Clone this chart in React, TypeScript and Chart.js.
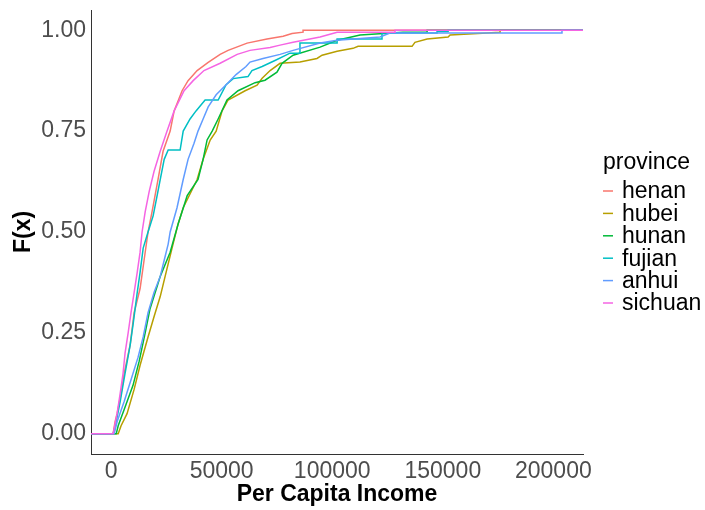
import React, { useEffect, useRef } from "react";
import { Chart, registerables } from "chart.js";

Chart.register(...registerables);

const PROVINCES = ["henan", "hubei", "hunan", "fujian", "anhui", "sichuan"];
const COLORS = ["#F8766D", "#B79F00", "#00BA38", "#00BFC4", "#619CFF", "#F564E3"];

const X_TICKS = [0, 50000, 100000, 150000, 200000];
const Y_TICKS = [0, 0.25, 0.5, 0.75, 1];
const X_MIN = -9100;
const X_MAX = 213400;

// ECDF curve vertices (income, cumulative share)
const HENAN_INCOME = [900, 1800, 2700, 4500, 5900, 8600, 10400, 13100, 14900, 16700, 18500, 21200, 23500, 26700, 28500, 32100, 34800, 38900, 43900, 49300, 52900, 61500, 70500, 77800, 81800, 86800, 86800];
const HENAN_F = [0, 0.03, 0.05, 0.1, 0.15, 0.22, 0.3, 0.36, 0.43, 0.5, 0.55, 0.63, 0.7, 0.75, 0.8, 0.85, 0.875, 0.9, 0.92, 0.94, 0.95, 0.968, 0.978, 0.985, 0.992, 0.995, 1.0];

const HUBEI_INCOME = [3200, 4500, 7200, 10400, 13100, 16700, 19400, 22200, 25300, 28000, 30300, 32600, 38900, 41600, 44800, 47500, 50200, 52900, 60600, 66000, 68300, 71900, 76400, 85400, 93100, 95400, 102200, 109400, 111700, 136100, 137400, 142900, 152400, 153300, 170000, 175900, 175900];
const HUBEI_F = [0, 0.02, 0.05, 0.11, 0.17, 0.24, 0.29, 0.34, 0.41, 0.47, 0.52, 0.56, 0.63, 0.68, 0.728, 0.75, 0.8, 0.827, 0.85, 0.864, 0.881, 0.9, 0.918, 0.921, 0.93, 0.938, 0.948, 0.955, 0.96, 0.96, 0.97, 0.978, 0.983, 0.988, 0.993, 0.995, 1.0];

const HUNAN_INCOME = [2300, 3200, 5900, 9900, 12700, 15400, 17600, 22200, 26700, 30300, 34400, 39300, 41600, 43400, 45700, 48400, 52400, 57400, 65100, 69600, 75000, 77300, 82300, 94500, 102200, 112600, 132000, 142900, 142900];
const HUNAN_F = [0, 0.02, 0.06, 0.12, 0.18, 0.25, 0.31, 0.39, 0.45, 0.52, 0.59, 0.63, 0.68, 0.728, 0.75, 0.78, 0.827, 0.85, 0.87, 0.876, 0.896, 0.918, 0.938, 0.958, 0.975, 0.988, 0.995, 0.995, 1.0];

const FUJIAN_INCOME = [900, 2300, 4100, 6300, 8600, 9900, 11800, 13100, 14500, 16700, 19000, 20800, 22200, 24000, 25800, 31200, 32600, 35700, 38400, 42500, 48400, 52000, 55200, 61900, 63700, 68300, 74100, 80900, 85400, 85400, 102200, 102200, 122500, 122500, 147400, 147400, 152400, 152400];
const FUJIAN_F = [0, 0.03, 0.08, 0.15, 0.22, 0.27, 0.35, 0.4, 0.46, 0.5, 0.54, 0.59, 0.63, 0.68, 0.703, 0.703, 0.75, 0.78, 0.8, 0.827, 0.827, 0.865, 0.88, 0.885, 0.9, 0.91, 0.925, 0.943, 0.943, 0.968, 0.968, 0.978, 0.978, 0.993, 0.993, 0.997, 0.997, 1.0];

const ANHUI_INCOME = [1400, 2700, 5900, 9000, 12200, 14500, 16700, 19400, 22200, 24000, 25800, 26700, 29800, 32600, 34800, 37500, 39300, 41600, 43900, 47500, 52900, 56500, 61000, 62800, 68700, 76400, 82300, 94500, 102200, 121600, 126100, 203900, 203900];
const ANHUI_F = [0, 0.03, 0.08, 0.134, 0.19, 0.24, 0.3, 0.35, 0.39, 0.43, 0.47, 0.5, 0.56, 0.63, 0.68, 0.72, 0.75, 0.78, 0.81, 0.84, 0.87, 0.89, 0.91, 0.921, 0.93, 0.94, 0.95, 0.968, 0.975, 0.983, 0.993, 0.993, 1.0];

const SICHUAN_INCOME = [900, 2700, 4100, 5400, 6300, 7700, 9000, 10400, 11800, 13100, 14000, 15400, 17200, 19400, 22200, 25300, 28500, 33000, 37100, 42000, 49300, 57000, 62800, 71900, 76400, 82300, 94500, 102200, 128400, 128400];
const SICHUAN_F = [0, 0.05, 0.1, 0.15, 0.2, 0.25, 0.3, 0.35, 0.4, 0.45, 0.5, 0.55, 0.6, 0.65, 0.7, 0.75, 0.8, 0.85, 0.875, 0.9, 0.918, 0.94, 0.95, 0.957, 0.963, 0.97, 0.983, 0.995, 0.995, 1.0];

const SERIES_INCOME = [HENAN_INCOME, HUBEI_INCOME, HUNAN_INCOME, FUJIAN_INCOME, ANHUI_INCOME, SICHUAN_INCOME];
const SERIES_F = [HENAN_F, HUBEI_F, HUNAN_F, FUJIAN_F, ANHUI_F, SICHUAN_F];

const FONT = "'Liberation Sans', Arial, sans-serif";

const legendPlugin = {
  id: "ggLegend",
  afterDraw(chart: any) {
    const ctx = chart.ctx;
    const area = chart.chartArea;
    const x0 = area.right + 20;
    ctx.save();
    ctx.font = `23px ${FONT}`;
    ctx.fillStyle = "#000";
    ctx.textBaseline = "middle";
    ctx.textAlign = "left";
    ctx.fillText("province", x0, 163);
    PROVINCES.forEach((name, i) => {
      const y = 191 + i * 22.4;
      ctx.strokeStyle = COLORS[i];
      ctx.lineWidth = 1.5;
      ctx.beginPath();
      ctx.moveTo(x0, y);
      ctx.lineTo(x0 + 10, y);
      ctx.stroke();
      ctx.fillStyle = "#000";
      ctx.fillText(name, x0 + 19, y + 1);
    });
    ctx.restore();
  },
};

export default function App() {
  const ref = useRef<HTMLCanvasElement>(null);
  useEffect(() => {
    if (!ref.current) return;
    const datasets = PROVINCES.map((name, i) => ({
      label: name,
      data: [
        { x: X_MIN, y: 0 },
        ...SERIES_INCOME[i].map((v, j) => ({ x: v, y: SERIES_F[i][j] })),
        { x: X_MAX, y: 1 },
      ],
      borderColor: COLORS[i],
      backgroundColor: COLORS[i],
      borderWidth: 1.5,
      pointRadius: 0,
      tension: 0,
      fill: false,
      order: PROVINCES.length - i,
    }));
    const chart = new Chart(ref.current, {
      type: "line",
      data: { datasets },
      options: {
        animation: false,
        responsive: false,
        layout: { padding: { top: 10, right: 122, bottom: 0, left: 0 } },
        plugins: { legend: { display: false }, tooltip: { enabled: false } },
        scales: {
          x: {
            type: "linear",
            min: X_MIN,
            max: X_MAX,
            grid: { display: false, drawTicks: false },
            border: { display: true, color: "#333", width: 1 },
            afterBuildTicks: (s: any) => {
              s.ticks = X_TICKS.map((v) => ({ value: v }));
            },
            afterFit: (s: any) => {
              s.height = 56;
              s.paddingLeft = 0;
              s.paddingRight = 0;
            },
            ticks: {
              color: "#4d4d4d",
              font: { family: FONT, size: 23 },
              padding: 4,
              maxRotation: 0,
              autoSkip: false,
              callback: (v: any) => String(v),
            },
            title: {
              display: true,
              text: "Per Capita Income",
              color: "#000",
              font: { family: FONT, size: 23, weight: "bold" },
              padding: { top: 0, bottom: 2 },
            },
          },
          y: {
            type: "linear",
            min: -0.05,
            max: 1.05,
            grid: { display: false, drawTicks: false },
            border: { display: true, color: "#333", width: 1 },
            afterBuildTicks: (s: any) => {
              s.ticks = Y_TICKS.map((v) => ({ value: v }));
            },
            afterFit: (s: any) => {
              s.width = 91;
              s.paddingTop = 0;
              s.paddingBottom = 0;
            },
            ticks: {
              color: "#4d4d4d",
              font: { family: FONT, size: 23 },
              padding: 5,
              autoSkip: false,
              callback: (v: any) => Number(v).toFixed(2),
            },
            title: {
              display: true,
              text: "F(x)",
              color: "#000",
              font: { family: FONT, size: 23, weight: "bold" },
              padding: { top: 10, bottom: 0 },
            },
          },
        },
      },
      plugins: [legendPlugin],
    });
    return () => chart.destroy();
  }, []);
  return (
    <div style={{ position: "absolute", left: 0, top: 0, width: 705, height: 510, background: "#fff" }}>
      <canvas ref={ref} width={705} height={510} style={{ display: "block" }} />
    </div>
  );
}
